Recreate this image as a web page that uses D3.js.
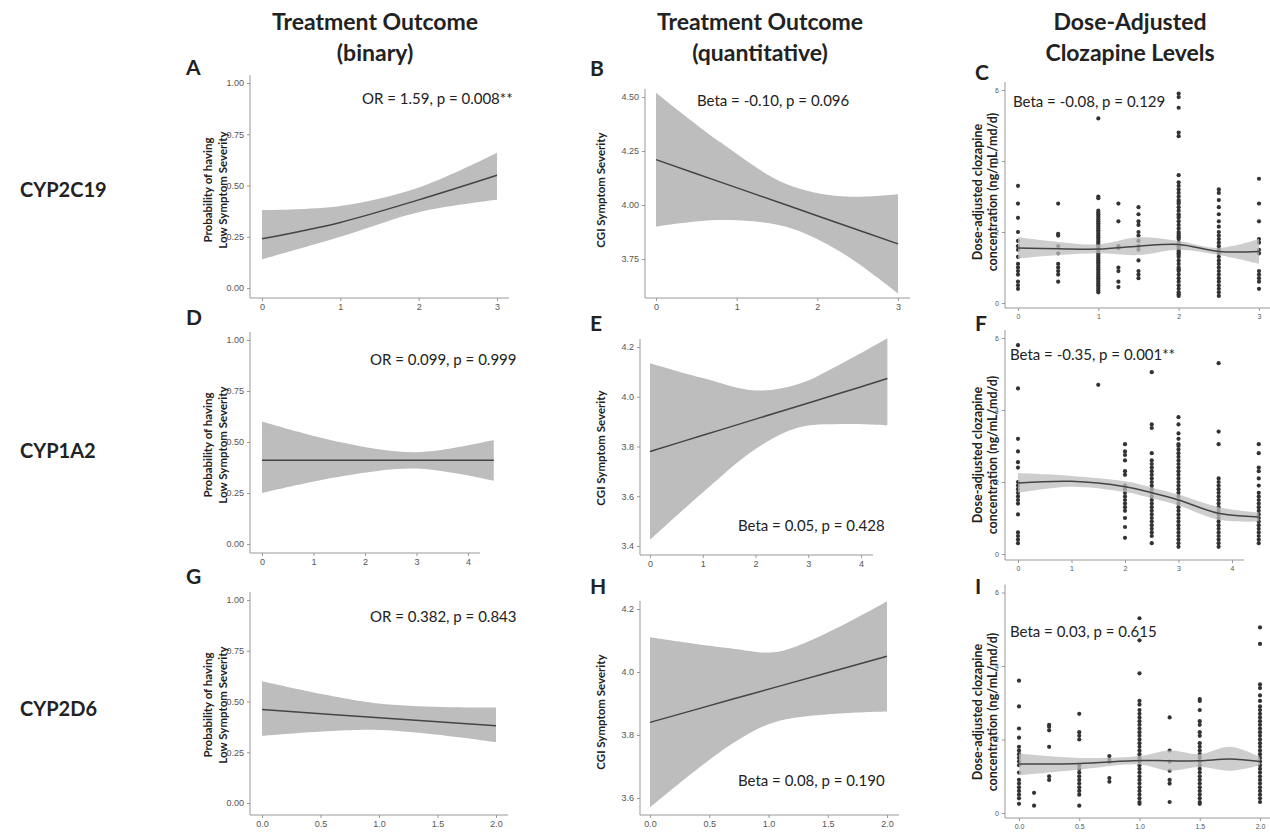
<!DOCTYPE html><html><head><meta charset="utf-8"><script src="https://cdn.jsdelivr.net/npm/d3@7"></script>
<style>body{margin:0;background:#fff}text{font-family:Lato,"Open Sans",sans-serif}</style></head><body>
<svg id="c" width="1270" height="833"></svg>
<script>
// ---- data ----
const colTitles=[["Treatment Outcome","(binary)"],["Treatment Outcome","(quantitative)"],["Dose-Adjusted","Clozapine Levels"]];
const rowLabels=["CYP2C19","CYP1A2","CYP2D6"];
const letters=["A","B","C","D","E","F","G","H","I"];
const annots=["OR = 1.59, p = 0.008**","Beta = -0.10, p = 0.096","Beta = -0.08, p = 0.129","OR = 0.099, p = 0.999","Beta = 0.05, p = 0.428","Beta = -0.35, p = 0.001**","OR = 0.382, p = 0.843","Beta = 0.08, p = 0.190","Beta = 0.03, p = 0.615"];
const xTicks=[[0,1,2,3],[0,1,2,3],[0,1,2,3],[0,1,2,3,4],[0,1,2,3,4],[0,1,2,3,4],[0,0.5,1,1.5,2],[0,0.5,1,1.5,2],[0,0.5,1,1.5,2]];
const yTicks=[[0,0.25,0.5,0.75,1],[3.75,4.0,4.25,4.5],[0,2,4,6],[0,0.25,0.5,0.75,1],[3.4,3.6,3.8,4.0,4.2],[0,2,4,6],[0,0.25,0.5,0.75,1],[3.6,3.8,4.0,4.2],[0,2,4,6]];
// fits: [x, fit, lower, upper]
const fitA=[[0,0.24,0.14,0.38],[1,0.32,0.25,0.40],[2,0.43,0.37,0.49],[3,0.55,0.43,0.66]];
const fitB=[[0,4.21,3.90,4.52],[0.8,4.106,3.93,4.29],[1.6,4.002,3.90,4.10],[2.3,3.911,3.78,4.04],[3,3.82,3.59,4.05]];
const fitC=[[0,1.55,1.25,1.85],[0.5,1.53,1.35,1.72],[1,1.52,1.40,1.65],[1.5,1.60,1.35,1.85],[2,1.65,1.50,1.75],[2.5,1.45,1.35,1.55],[3,1.45,1.10,1.80]];
const fitD=[[0,0.41,0.25,0.60],[1.5,0.41,0.33,0.50],[3,0.41,0.37,0.45],[4.5,0.41,0.31,0.51]];
const fitE=[[0,3.78,3.425,4.135],[1,3.845,3.615,4.075],[2,3.91,3.79,4.025],[2.8,3.962,3.875,4.05],[3.6,4.014,3.89,4.13],[4.5,4.073,3.885,4.235]];
const fitF=[[0,1.97,1.70,2.25],[1,2.02,1.87,2.17],[2,1.87,1.72,2.02],[2.5,1.70,1.55,1.85],[3,1.50,1.35,1.65],[3.75,1.13,0.95,1.30],[4.5,1.03,0.90,1.15]];
const fitG=[[0,0.46,0.33,0.60],[1,0.42,0.36,0.49],[2,0.38,0.30,0.47]];
const fitH=[[0,3.84,3.57,4.11],[0.7,3.914,3.774,4.074],[1.1,3.956,3.846,4.066],[2,4.05,3.875,4.225]];
const fitI=[[0,1.33,1.03,1.62],[0.5,1.35,1.18,1.50],[1,1.43,1.32,1.55],[1.25,1.42,1.15,1.70],[1.5,1.42,1.25,1.60],[1.75,1.47,1.15,1.80],[2,1.40,1.30,1.52]];
// scatter groups: [x, values]
const ptsC=[[0,[3.3,2.8,2.4,2.0,1.75,1.6,1.5,1.3,1.1,1.0,0.9,0.8,0.6,0.5,0.4]],
 [0.5,[2.8,1.95,1.9,1.6,1.4,1.1,1.0,0.9,0.8,0.6]],
 [1,[5.2,3.0,2.95,2.6,2.55,2.5,2.45,2.4,2.35,2.3,2.25,2.2,2.15,2.1,2.05,2.0,1.95,1.9,1.85,1.8,1.75,1.7,1.65,1.6,1.55,1.5,1.45,1.4,1.35,1.3,1.25,1.2,1.15,1.1,1.05,1.0,0.95,0.9,0.85,0.8,0.75,0.7,0.65,0.6,0.55,0.5,0.45,0.4,0.35,0.3]],
 [1.25,[2.8,2.3,1.6,1.55,1.0,0.9,0.6,0.45]],
 [1.5,[2.7,2.5,2.3,2.2,2.0,1.9,1.75,1.6,1.5,1.2,0.9,0.8,0.7]],
 [2,[5.9,5.8,5.5,4.8,4.7,3.6,3.4,3.3,3.2,3.1,3.0,2.9,2.85,2.8,2.7,2.6,2.5,2.45,2.4,2.3,2.2,2.1,2.0,1.95,1.9,1.85,1.8,1.7,1.65,1.6,1.55,1.5,1.45,1.4,1.35,1.3,1.2,1.1,1.0,0.95,0.9,0.8,0.7,0.6,0.5,0.4,0.3,0.25,0.2]],
 [2.5,[3.2,3.1,2.9,2.7,2.5,2.3,2.15,2.0,1.9,1.8,1.7,1.6,1.5,1.45,1.4,1.3,1.2,1.1,1.0,0.9,0.8,0.7,0.6,0.5,0.4,0.3,0.2]],
 [3,[3.5,2.8,2.3,1.8,1.7,1.5,1.4,0.9,0.8,0.7,0.6,0.4]]];
const ptsF=[[0,[5.8,4.6,3.2,2.85,2.55,2.4,2.0,1.9,1.8,1.7,1.6,1.5,1.4,1.1,0.6,0.5,0.4,0.3]],
 [1.5,[4.7]],
 [2,[3.05,2.85,2.75,2.6,2.3,2.2,1.9,1.8,1.7,1.6,1.5,1.4,1.3,1.2,1.0,0.75,0.45]],
 [2.5,[5.05,3.6,3.5,2.8,2.6,2.5,2.4,2.3,2.2,2.1,2.0,1.9,1.8,1.7,1.6,1.5,1.4,1.3,1.2,1.1,1.0,0.9,0.8,0.7,0.6,0.5,0.3]],
 [3,[3.8,3.6,3.35,3.2,3.05,3.0,2.9,2.8,2.7,2.6,2.5,2.4,2.3,2.2,2.1,2.0,1.9,1.8,1.7,1.6,1.5,1.4,1.3,1.2,1.1,1.0,0.9,0.8,0.7,0.6,0.5,0.4,0.3,0.2]],
 [3.75,[5.3,3.4,3.05,2.1,2.0,1.9,1.8,1.7,1.6,1.5,1.4,1.3,1.2,1.1,1.0,0.9,0.8,0.7,0.6,0.5,0.4,0.3,0.2]],
 [4.5,[3.05,2.8,2.4,2.3,2.1,1.9,1.7,1.6,1.5,1.4,1.3,1.2,1.1,1.0,0.9,0.8,0.7,0.6,0.5,0.4,0.3]]];
const ptsI=[[0,[3.6,2.9,2.3,2.05,1.8,1.7,1.6,1.5,1.4,1.3,1.1,0.9,0.8,0.7,0.6,0.5,0.4,0.25]],
 [0.125,[0.55,0.2]],
 [0.25,[2.4,2.35,2.25,1.8,1.0,0.9]],
 [0.5,[2.7,2.2,2.1,2.0,1.3,1.2,1.1,1.0,0.9,0.8,0.7,0.6,0.5,0.2]],
 [0.75,[1.55,1.45,1.4,0.95,0.85]],
 [1,[5.3,4.7,3.8,3.05,2.95,2.8,2.7,2.6,2.5,2.4,2.3,2.2,2.1,2.0,1.9,1.8,1.7,1.6,1.5,1.4,1.3,1.2,1.1,1.0,0.9,0.8,0.7,0.6,0.5,0.4,0.3,0.25]],
 [1.25,[2.6,1.7,1.4,1.15,0.9,0.8,0.3]],
 [1.5,[3.1,3.05,2.8,2.5,2.4,2.2,2.1,1.9,1.8,1.7,1.6,1.5,1.4,1.3,1.2,1.1,1.0,0.9,0.8,0.7,0.6,0.5,0.4,0.3,0.25]],
 [2,[5.05,4.6,3.5,3.4,3.2,3.05,2.9,2.8,2.7,2.6,2.5,2.4,2.3,2.2,2.1,2.0,1.9,1.8,1.7,1.6,1.5,1.4,1.3,1.2,1.1,1.0,0.9,0.8,0.7,0.6,0.5,0.4,0.3]]];

// ---- layout ----
const P=[
 {fit:fitA,x:[0,3,262,497],y:[0,1,288,83],ax:250,by:298,lab:["Probability of having","Low Symptom Severity"],lx:218,ly:190},
 {fit:fitB,x:[0,3,656,898],y:[3.75,4.5,259,97],ax:645,by:298,lab:["CGI Symptom Severity"],lx:605,ly:190},
 {fit:fitC,pts:ptsC,x:[0,3,1018,1259],y:[0,2,303,232],ax:1005,by:308,lab:["Dose-adjusted clozapine","concentration (ng/mL/md/d)"],lx:988,ly:192},
 {fit:fitD,x:[0,4,262,468],y:[0,1,544,340],ax:250,by:553,lab:["Probability of having","Low Symptom Severity"],lx:218,ly:445},
 {fit:fitE,x:[0,4,650,861],y:[3.4,4.2,546,347],ax:640,by:555,lab:["CGI Symptom Severity"],lx:605,ly:448},
 {fit:fitF,pts:ptsF,x:[0,4,1018,1232],y:[0,6,554,338],ax:1005,by:560,lab:["Dose-adjusted clozapine","concentration (ng/mL/md/d)"],lx:988,ly:455},
 {fit:fitG,x:[0,2,262,496],y:[0,1,803,600],ax:250,by:815,lab:["Probability of having","Low Symptom Severity"],lx:218,ly:705},
 {fit:fitH,x:[0,2,650,887],y:[3.6,4.2,798,609],ax:640,by:815,lab:["CGI Symptom Severity"],lx:605,ly:712},
 {fit:fitI,pts:ptsI,x:[0,2,1019,1260],y:[0,4,813,666],ax:1005,by:818,lab:["Dose-adjusted clozapine","concentration (ng/mL/md/d)"],lx:988,ly:712}];
const annPos=[[362,104],[697,106],[1013,107],[370,365],[738,531],[1010,360],[370,622],[738,786],[1010,637]];
const letPos=[[186,75],[590,76],[975,80],[186,325],[590,331],[975,331],[186,584],[590,594],[975,594]];

const svg=d3.select("#c");
colTitles.forEach((t,i)=>{const cx=[375,760,1130][i];
 t.forEach((s,j)=>svg.append("text").attr("x",cx).attr("y",30+j*31).attr("text-anchor","middle").attr("font-size",23).attr("font-weight","bold").attr("fill","#222").text(s));});
rowLabels.forEach((s,i)=>svg.append("text").attr("x",20).attr("y",[197,458,716][i]).attr("font-size",20).attr("font-weight","bold").attr("fill","#222").text(s));

P.forEach((p,i)=>{
 const x=d3.scaleLinear().domain([p.x[0],p.x[1]]).range([p.x[2],p.x[3]]);
 const y=d3.scaleLinear().domain([p.y[0],p.y[1]]).range([p.y[2],p.y[3]]);
 const xt=xTicks[i],yt=yTicks[i];
 const xmax=x(xt[xt.length-1])+12;
 const ytop=Math.min(y(yt[yt.length-1]),p.y[3])-8;
 const g=svg.append("g");
 g.append("line").attr("x1",p.ax).attr("x2",p.ax).attr("y1",ytop).attr("y2",p.by).attr("stroke","#999");
 g.append("line").attr("x1",p.ax).attr("x2",xmax).attr("y1",p.by).attr("y2",p.by).attr("stroke","#999");
 const ax=d3.axisBottom(x).tickValues(xt).tickSize(3).tickFormat(d=>xt.some(v=>v%1)?d3.format(".1f")(d):d);
 const gx=g.append("g").attr("transform",`translate(0,${p.by})`).call(ax);
 const ay=d3.axisLeft(y).tickValues(yt).tickSize(3).tickFormat(d=>(i%3==0)?d3.format(".2f")(d):(i==1?d3.format(".2f")(d):(i%3==1?d3.format(".1f")(d):d)));
 const gy=g.append("g").attr("transform",`translate(${p.ax},0)`).call(ay);
 [gx,gy].forEach(a=>{a.select(".domain").remove();a.selectAll("line").attr("stroke","#999");a.selectAll("text").attr("fill","#555").attr("font-size",i%3==2?7:9).style("font-family","Liberation Sans,Arial");});
 if(p.pts){p.pts.forEach(([gxv,vals])=>vals.forEach(v=>g.append("circle").attr("cx",x(gxv)).attr("cy",y(v)).attr("r",2.1).attr("fill","#333")));}
 const cv=d3.curveCatmullRom.alpha(0.5);
 const area=d3.area().x(d=>x(d[0])).y0(d=>y(d[2])).y1(d=>y(d[3])).curve(cv);
 g.append("path").attr("d",area(p.fit)).attr("fill","#bdbdbd").attr("fill-opacity",p.pts?0.75:1);
 g.append("path").attr("d",d3.line().x(d=>x(d[0])).y(d=>y(d[1])).curve(cv)(p.fit)).attr("fill","none").attr("stroke","#444").attr("stroke-width",1.5);
 const lt=g.append("text").attr("transform",`translate(${p.lx},${p.ly}) rotate(-90)`).attr("text-anchor","middle").attr("font-size",p.lab.length>1&&p.pts?12.5:11.5).attr("font-weight","bold").attr("fill","#222");
 p.lab.forEach((s,j)=>lt.append("tspan").attr("x",0).attr("dy",j?15:(p.lab.length>1?-6:0)).text(s));
 g.append("text").attr("x",annPos[i][0]).attr("y",annPos[i][1]).attr("font-size",15).attr("fill","#222").text(annots[i]);
 g.append("text").attr("x",letPos[i][0]).attr("y",letPos[i][1]).attr("font-size",21).attr("font-weight","bold").attr("fill","#222").text(letters[i]);
});
</script></body></html>
